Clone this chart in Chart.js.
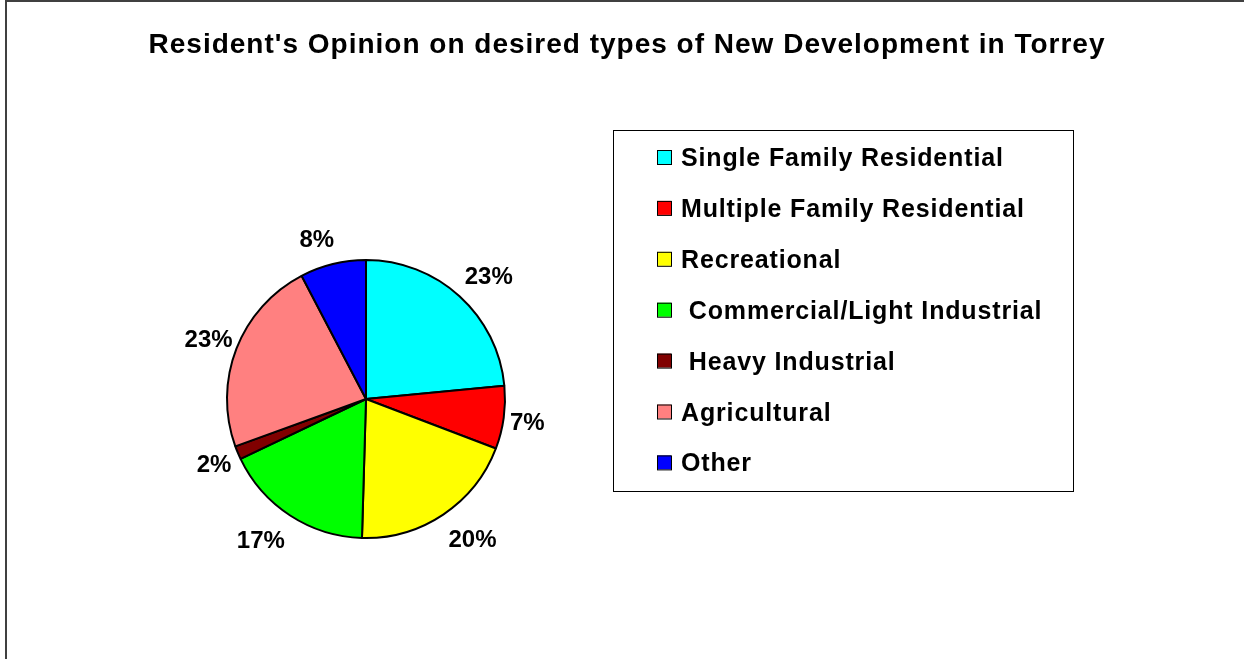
<!DOCTYPE html>
<html>
<head>
<meta charset="utf-8">
<script src="https://cdn.jsdelivr.net/npm/chart.js@4/dist/chart.umd.min.js"></script>
<style>
  body { margin: 0; background: #fff; }
  #wrap { position: relative; width: 1244px; height: 659px; overflow: hidden; }
  #frame { position: absolute; left: 5px; top: 0; width: 1300px; height: 700px;
           border-left: 2px solid #404040; border-top: 2px solid #404040; }
  canvas { position: absolute; left: 0; top: 0; }
</style>
</head>
<body>
<div id="wrap">
  <div id="frame"></div>
  <canvas id="chart" width="1244" height="659"></canvas>
</div>
<script>
// Chart data
const categories = [
  "Single Family Residential",
  "Multiple Family Residential",
  "Recreational",
  " Commercial/Light Industrial",
  " Heavy Industrial",
  "Agricultural",
  "Other"
];
const shares = [23.49, 7.3, 19.67, 17.45, 1.56, 22.86, 7.67];
const colors = ["#00FFFF", "#FF0000", "#FFFF00", "#00FF00", "#800000", "#FF8080", "#0000FF"];
const titleText = "Resident's Opinion on desired types of New Development in Torrey";

const FONT = "Arial, 'Liberation Sans', sans-serif";
const clamp = (v, lo, hi) => Math.max(lo, Math.min(hi, v));

// Title, boxed legend and outside percent labels drawn on the canvas
const decorations = {
  id: "decorations",
  afterDatasetsDraw(chart) {
    const ctx = chart.ctx;
    ctx.save();

    // title
    ctx.fillStyle = "#000";
    ctx.font = "bold 28px " + FONT;
    ctx.letterSpacing = "1px";
    ctx.textAlign = "center";
    ctx.textBaseline = "alphabetic";
    ctx.fillText(titleText, 627, 53);

    // percent labels outside each slice
    const meta = chart.getDatasetMeta(0);
    const total = shares.reduce((a, b) => a + b, 0);
    ctx.font = "bold 24px " + FONT;
    ctx.letterSpacing = "0px";
    meta.data.forEach((arc, i) => {
      const p = arc.getProps(["x", "y", "startAngle", "endAngle", "outerRadius"], true);
      const mid = (p.startAngle + p.endAngle) / 2;
      const ux = Math.cos(mid), uy = Math.sin(mid);
      const txt = Math.round(shares[i] / total * 100) + "%";
      const w = ctx.measureText(txt).width;
      const d = p.outerRadius + 14;
      const sx = clamp(ux * 3, -1, 1) * (1.05 - 0.5 * ux * ux);
      const cx = p.x + ux * d + sx * w / 2;
      const cy = p.y + uy * d + clamp(uy * 1.2, -1, 1) * 12;
      ctx.fillText(txt, cx, cy + 8.6);
    });

    // legend box
    ctx.strokeStyle = "#000";
    ctx.lineWidth = 1;
    ctx.strokeRect(613.5, 130.5, 460, 361);
    ctx.textAlign = "left";
    ctx.font = "bold 25px " + FONT;
    ctx.letterSpacing = "0.85px";
    categories.forEach((name, i) => {
      const cy = 157 + i * 50.9;
      ctx.fillStyle = colors[i];
      ctx.fillRect(657, cy - 7, 14, 14);
      ctx.strokeRect(657.5, cy - 6.5, 14, 14);
      ctx.fillStyle = "#000";
      ctx.fillText(name, 681, cy + 9);
    });
    ctx.restore();
  }
};

new Chart(document.getElementById("chart"), {
  type: "pie",
  data: {
    labels: categories,
    datasets: [{
      data: shares,
      backgroundColor: colors,
      borderColor: "#000",
      borderWidth: 2,
      radius: 139
    }]
  },
  options: {
    responsive: false,
    animation: false,
    events: [],
    layout: {
      padding: { left: 216, right: 728, top: 249, bottom: 110 }
    },
    plugins: {
      legend: { display: false },
      title: { display: false },
      tooltip: { enabled: false }
    }
  },
  plugins: [decorations]
});
</script>
</body>
</html>
